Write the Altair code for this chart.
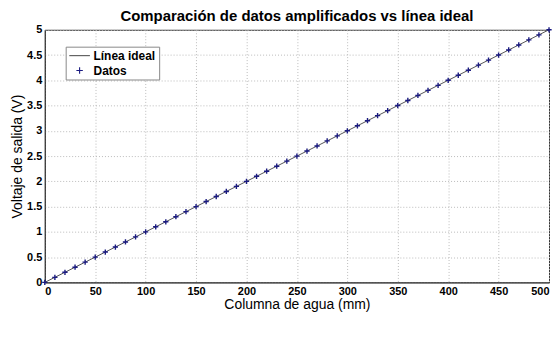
import altair as alt
import pandas as pd

columna_mm = [0, 10, 20, 30, 40, 50, 60, 70, 80, 90, 100, 110, 120, 130, 140, 150,
              160, 170, 180, 190, 200, 210, 220, 230, 240, 250, 260, 270, 280, 290,
              300, 310, 320, 330, 340, 350, 360, 370, 380, 390, 400, 410, 420, 430,
              440, 450, 460, 470, 480, 490, 500]
voltaje_datos = [0.0, 0.1, 0.2, 0.3, 0.4, 0.5, 0.6, 0.7, 0.8, 0.9, 1.0, 1.1, 1.2, 1.3,
                 1.4, 1.5, 1.6, 1.7, 1.8, 1.9, 2.0, 2.1, 2.2, 2.3, 2.4, 2.5, 2.6, 2.7,
                 2.8, 2.9, 3.0, 3.1, 3.2, 3.3, 3.4, 3.5, 3.6, 3.7, 3.8, 3.9, 4.0, 4.1,
                 4.2, 4.3, 4.4, 4.5, 4.6, 4.7, 4.8, 4.9, 5.0]
linea_x = [0, 500]
linea_y = [0.0, 5.0]
series = ["Línea ideal", "Datos"]
x_ticks = [0, 50, 100, 150, 200, 250, 300, 350, 400, 450, 500]
y_ticks = [0, 0.5, 1, 1.5, 2, 2.5, 3, 3.5, 4, 4.5, 5]

df_datos = pd.DataFrame({"x": columna_mm, "y": voltaje_datos, "serie": series[1]})
df_linea = pd.DataFrame({"x": linea_x, "y": linea_y, "serie": series[0]})

FONT = "Liberation Sans"
PLUS = "M-1,0L1,0M0,-1L0,1"
DASH = "M-3.2,0L3.2,0"

xenc = alt.X("x:Q", scale=alt.Scale(domain=[0, 500], nice=False),
             axis=alt.Axis(values=x_ticks, title="Columna de agua (mm)", format="d"))
yenc = alt.Y("y:Q", scale=alt.Scale(domain=[0, 5], nice=False),
             axis=alt.Axis(values=y_ticks, title="Voltaje de salida (V)", format="~g"))

color = alt.Color("serie:N", scale=alt.Scale(domain=series, range=["#555555", "#1a1a80"]),
                  legend=alt.Legend(title=None, orient="none", legendX=21, legendY=17,
                                    fillColor="white", strokeColor="#888888",
                                    padding=3, labelFont=FONT, labelFontSize=12,
                                    labelFontWeight="bold", labelColor="black",
                                    symbolSize=42, symbolStrokeWidth=1.1,
                                    symbolOffset=5, labelOffset=8, rowPadding=3))
shape = alt.Shape("serie:N", scale=alt.Scale(domain=series, range=[DASH, PLUS]))

linea = alt.Chart(df_linea).mark_line(strokeWidth=1).encode(x=xenc, y=yenc, color=color)
puntos = alt.Chart(df_datos).mark_point(filled=False, size=28, strokeWidth=1.4, opacity=1).encode(
    x=xenc, y=yenc, color=color, shape=shape)

chart = alt.layer(linea, puntos).properties(
    width=507, height=254,
    title=alt.TitleParams("Comparación de datos amplificados vs línea ideal",
                          font=FONT, fontSize=15, fontWeight="bold", color="black", offset=0),
    autosize=alt.AutoSizeParams(type="none"),
    padding={"left": 37, "top": 21, "right": 3, "bottom": 50},
).configure_view(stroke="#333333", strokeWidth=1).configure_axis(
    labelFont=FONT, labelFontSize=11, labelFontWeight="bold", labelColor="black",
    titleFont=FONT, titleFontSize=14, titleFontWeight="normal", titleColor="black",
    grid=True, gridColor="#bbbbbb", gridDash=[1, 2], gridWidth=1,
    domainColor="#333333", ticks=False, labelPadding=3,
).configure_axisX(titlePadding=1).configure_axisY(titlePadding=2)

chart.save("out.html", embed_options={"renderer": "svg", "actions": False})
